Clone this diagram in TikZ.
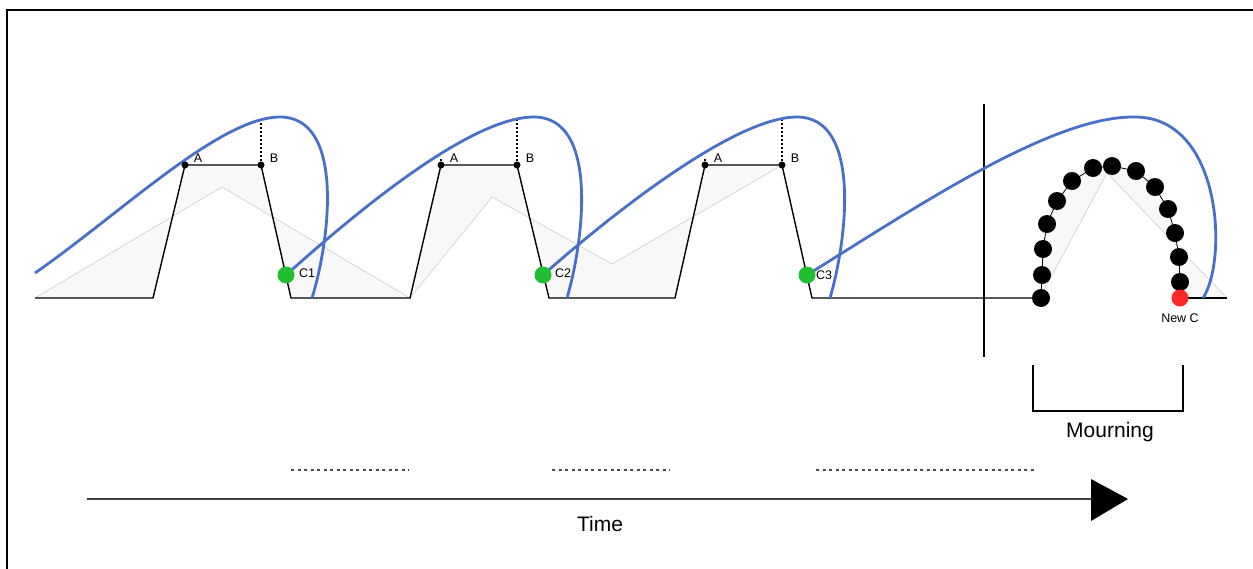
\documentclass[tikz,border=0pt]{standalone}
\usepackage{fontspec}
\setmainfont{Liberation Sans}
\definecolor{curveblue}{RGB}{72,112,200}
\definecolor{dotgreen}{RGB}{34,190,50}
\definecolor{dotred}{RGB}{255,40,40}
\definecolor{shadefill}{RGB}{248,248,248}
\begin{document}
\begin{tikzpicture}[x=1pt,y=-1pt,
  blk/.style={line width=1.4pt, line join=round},
  grayline/.style={draw=black!22, line width=0.5pt},
  shadearea/.style={fill=shadefill, even odd rule},
  bluecurve/.style={draw=curveblue, line width=2.8pt},
  abdot/.style={circle, fill=black, inner sep=0pt, minimum size=7pt},
  cdot/.style={circle, fill=dotgreen, inner sep=0pt, minimum size=17pt},
  archdot/.style={circle, fill=black, inner sep=0pt, minimum size=18pt},
  reddot/.style={circle, fill=dotred, inner sep=0pt, minimum size=17pt},
  smalllbl/.style={font=\fontsize{12.5}{14}\selectfont, inner sep=0pt},
  biglbl/.style={font=\fontsize{21}{24}\selectfont, inner sep=0pt},
  tick/.style={line width=1.2pt, dash pattern=on 2pt off 2pt},
  gapline/.style={draw=black!70, line width=1.6pt, dash pattern=on 3pt off 3.5pt}
]
\useasboundingbox (0,0) rectangle (1253,568);
\draw[line width=1.5pt] (7,10) rectangle (1280,600);

% coordinates
\coordinate (a1) at (185,165); \coordinate (b1) at (261,165);
\coordinate (a2) at (441,165); \coordinate (b2) at (517,165);
\coordinate (a3) at (705,165); \coordinate (b3) at (782,165);

% shaded areas
\fill[shadearea] (35,298) -- (153,298) -- (a1) -- (b1) -- (291,298) -- (410,298) -- (222,187) -- cycle;
\draw[grayline] (35,298) -- (222,187) -- (410,298);
\fill[shadearea] (410,298) -- (a2) -- (b2) -- (549,298) -- (675,298) -- (a3) -- (b3) -- (612,264) -- (492,197) -- cycle;
\draw[grayline] (410,298) -- (492,197) -- (612,264) -- (b3);

% mourning arch points
\coordinate (p1) at (1041,298);
\coordinate (p2) at (1042,275);
\coordinate (p3) at (1043,249);
\coordinate (p4) at (1047,224);
\coordinate (p5) at (1057,201);
\coordinate (p6) at (1072,181);
\coordinate (p7) at (1093,168);
\coordinate (p8) at (1112,166);
\coordinate (p9) at (1136,171);
\coordinate (p10) at (1155,187);
\coordinate (p11) at (1168,209);
\coordinate (p12) at (1175,233);
\coordinate (p13) at (1179,257);
\coordinate (p14) at (1180,282);
\coordinate (p15) at (1180,298);
\fill[shadefill] (p1) -- (p2) -- (p3) -- (p4) -- (p5) -- (p6) -- (p7) -- (p8) -- (p9) -- (p10) -- (p11) -- (p12) -- (p13) -- (p14) -- (p15) -- (1227,298) -- (1107,173) -- (1043,292) -- cycle;
\draw[grayline] (1043,292) -- (1107,173) -- (1227,298);

% main black path
\draw[blk] (35,298) -- (153,298) -- (a1) -- (b1) -- (291,298) -- (410,298) -- (a2) -- (b2) -- (549,298) -- (675,298) -- (a3) -- (b3) -- (812,298) -- (p1);
\draw[blk] (p15) -- (1227,298);
\draw[line width=0.8pt] (p1) -- (p2) -- (p3) -- (p4) -- (p5) -- (p6) -- (p7) -- (p8) -- (p9) -- (p10) -- (p11) -- (p12) -- (p13) -- (p14) -- (p15);

% vertical separator
\draw[line width=1.3pt] (984,104) -- (984,357);

% dotted ticks
\draw[tick] (a1) -- (185,159);
\draw[tick] (b1) -- (261,120);
\draw[tick] (a2) -- (441,159);
\draw[tick] (b2) -- (517,120);
\draw[tick] (a3) -- (705,159);
\draw[tick] (b3) -- (782,118);

% green dots positions
\coordinate (c1p) at (286,275);
\coordinate (c2p) at (543,275);
\coordinate (c3p) at (807,275);

% blue curves
\draw[bluecurve] (35,273) .. controls (120,214) and (220,117) .. (280,117) .. controls (345,117) and (330,240) .. (312,298);
\draw[bluecurve] (c1p) .. controls (362,207) and (472,117) .. (534,117) .. controls (599,117) and (584,240) .. (567,298);
\draw[bluecurve] (c2p) .. controls (620,207) and (737,117) .. (797,117) .. controls (862,117) and (847,240) .. (830,298);
\draw[bluecurve] (c3p) .. controls (915,208) and (1050,117) .. (1133,117) .. controls (1222,115) and (1228,260) .. (1203,298);

% A/B dots and labels
\node[abdot] (A1) at (a1) {}; \node[abdot] (B1) at (b1) {};
\node[abdot] (A2) at (a2) {}; \node[abdot] (B2) at (b2) {};
\node[abdot] (A3) at (a3) {}; \node[abdot] (B3) at (b3) {};
\node[smalllbl] (lA1) at (198,158) {A}; \node[smalllbl] (lB1) at (274,158) {B};
\node[smalllbl] (lA2) at (454,158) {A}; \node[smalllbl] (lB2) at (530,158) {B};
\node[smalllbl] (lA3) at (718,158) {A}; \node[smalllbl] (lB3) at (795,158) {B};

% green dots
\node[cdot] (C1) at (c1p) {}; \node[smalllbl] (lC1) at (307,273) {C1};
\node[cdot] (C2) at (c2p) {}; \node[smalllbl] (lC2) at (563,273) {C2};
\node[cdot] (C3) at (c3p) {}; \node[smalllbl] (lC3) at (824,275) {C3};

% arch dots
\foreach \i in {1,...,14} { \node[archdot] (m\i) at (p\i) {}; }
\node[reddot] (m15) at (p15) {};
\node[smalllbl] (lNewC) at (1180,318) {New C};

% mourning bracket
\draw[line width=1.3pt] (1033,365) -- (1033,411) -- (1183,411) -- (1183,365);
\node[biglbl] (lMourning) at (1110,432) {Mourning};

% gaps
\draw[gapline] (291,470) -- (409,470);
\draw[gapline] (552,470) -- (670,470);
\draw[gapline] (816,470) -- (1036,470);

% time arrow
\coordinate (tstart) at (87,499);
\coordinate (tbase) at (1091,499);
\coordinate (ttip) at (1128,499);
\draw[line width=2pt, draw=black!75] (tstart) -- (tbase);
\fill (1091,479) -- (ttip) -- (1091,521) -- cycle;
\node[biglbl] (lTime) at (600,524) {Time};
\end{tikzpicture}
\end{document}
